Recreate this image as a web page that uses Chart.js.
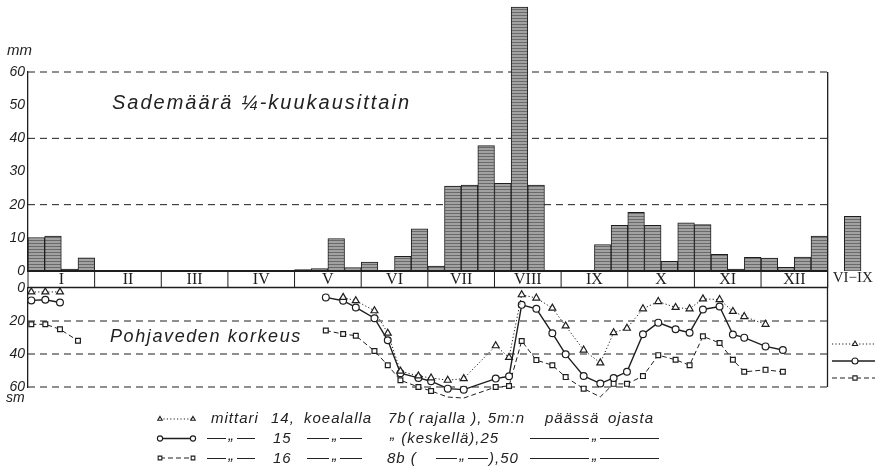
<!DOCTYPE html>
<html>
<head>
<meta charset="utf-8">
<script src="https://cdn.jsdelivr.net/npm/chart.js@4/dist/chart.umd.min.js"></script>
<style>
html,body{margin:0;padding:0;background:#fff;}
#wrap{position:relative;width:875px;height:466px;overflow:hidden;background:#fff;}
canvas{position:absolute;left:0;top:0;}
.t{position:absolute;white-space:pre;font-family:"Liberation Sans",Arial,sans-serif;font-style:italic;color:#222;line-height:1;}
.lg{font-size:15px;letter-spacing:1px;}
.rule{position:absolute;display:flex;align-items:center;height:16px;font-family:"Liberation Sans",Arial,sans-serif;font-style:italic;color:#222;font-size:15px;}
.rule i{flex:1;border-top:1px solid #222;height:0;}
.rule b{font-weight:normal;padding:0 3px;position:relative;top:-4px;}
</style>
</head>
<body>
<div id="wrap">
  <canvas id="rain" width="875" height="466"></canvas>
  <canvas id="water" width="875" height="466"></canvas>

  <div class="t" style="left:7px;top:42px;font-size:15px;">mm</div>
  <div class="t" style="left:112px;top:92px;font-size:20px;letter-spacing:2px;">Sademäärä ¼-kuukausittain</div>
  <div class="t" style="left:110px;top:327px;font-size:18px;letter-spacing:1.6px;">Pohjaveden korkeus</div>
  <div class="t" style="left:6px;top:390px;font-size:14px;">sm</div>

  <!-- gauge legend, row 1 -->
  <div class="t lg" style="left:211px;top:410px;">mittari</div>
  <div class="t lg" style="left:271px;top:410px;">14,</div>
  <div class="t lg" style="left:304px;top:410px;">koealalla</div>
  <div class="t lg" style="left:388px;top:410px;">7b</div>
  <div class="t lg" style="left:408px;top:410px;">( rajalla ), 5m:n</div>
  <div class="t lg" style="left:545px;top:410px;">päässä</div>
  <div class="t lg" style="left:608px;top:410px;">ojasta</div>

  <!-- row 2 -->
  <div class="rule" style="left:207px;top:430px;width:48px;"><i></i><b>„</b><i></i></div>
  <div class="t lg" style="left:273px;top:430px;">15</div>
  <div class="rule" style="left:307px;top:430px;width:55px;"><i></i><b>„</b><i></i></div>
  <div class="t lg" style="left:390px;top:430px;"><span style="position:relative;top:-4px;">„</span> (keskellä),25</div>
  <div class="rule" style="left:530px;top:430px;width:129px;"><i></i><b>„</b><i></i></div>

  <!-- row 3 -->
  <div class="rule" style="left:207px;top:450px;width:48px;"><i></i><b>„</b><i></i></div>
  <div class="t lg" style="left:273px;top:450px;">16</div>
  <div class="rule" style="left:307px;top:450px;width:55px;"><i></i><b>„</b><i></i></div>
  <div class="t lg" style="left:387px;top:450px;">8b (</div>
  <div class="rule" style="left:436px;top:450px;width:52px;"><i></i><b>„</b><i></i></div>
  <div class="t lg" style="left:489px;top:450px;">),50</div>
  <div class="rule" style="left:530px;top:450px;width:129px;"><i></i><b>„</b><i></i></div>
</div>

<script>
// ---- Precipitation, mm per quarter of a month ----
const months = ['I','II','III','IV','V','VI','VII','VIII','IX','X','XI','XII'];
const rainQuarter = [
  10.1, 10.5, 0.6, 4.0,    // I
  0, 0, 0, 0,              // II
  0, 0, 0, 0,              // III
  0, 0, 0, 0,              // IV
  0.4, 0.7, 9.8, 1.0,      // V
  2.7, 0, 4.4, 12.7,       // VI
  1.5, 25.6, 25.9, 37.8,   // VII
  26.4, 79.6, 25.9, 0,     // VIII
  0, 0, 8.0, 13.8,         // IX
  17.7, 13.8, 2.9, 14.5,   // X
  14.0, 5.0, 0.6, 4.1,     // XI
  3.9, 1.1, 4.2, 10.5      // XII
];
const summerLabel = 'VI−IX';
const summerRain = 16.5;
const rainTicks = [0, 10, 20, 30, 40, 50, 60];
const rainGrid = [20, 40, 60];

// ---- Groundwater depth (cm below surface) ----
// reading times as month positions (0 = start of January, 12 = end of December)
const tJan = [0.05, 0.26, 0.48, 0.75];
const tSummer = [4.47, 4.73, 4.92, 5.20, 5.40, 5.59, 5.86, 6.05, 6.30, 6.54,
                 7.02, 7.22, 7.41, 7.63, 7.87, 8.07, 8.34, 8.59, 8.79, 8.99,
                 9.23, 9.46, 9.72, 9.93, 10.13, 10.38, 10.58, 10.75, 11.07, 11.33];
const gauge14Jan = [2.4, 2.4, 2.4, null];
const gauge14 = [null, 5.7, 7.7, 13.8, 27.4, 50.4, 53.3, 54.5, 55.9, 54.9,
                 35.0, 42.1, 4.1, 6.1, 12.2, 23.0, 37.6, 45.4, 27.1, 24.4,
                 12.6, 8.2, 11.8, 12.6, 6.6, 7.0, 14.2, 17.3, 22.0, null];
const gauge15Jan = [7.5, 7.1, 8.8, null];
const gauge15 = [5.7, 7.7, 11.8, 18.3, 31.7, 51.6, 54.5, 56.5, 61.0, 61.6,
                 54.9, 53.5, 10.2, 12.6, 27.4, 40.2, 53.3, 57.9, 54.5, 50.8,
                 28.0, 21.0, 25.0, 27.1, 13.0, 11.2, 28.2, 30.1, 35.4, 37.6];
const gauge16Jan = [22.0, 22.0, 25.0, 32.0];
const gauge16 = [25.8, 27.9, 28.9, 38.2, 46.8, 55.9, 60.0, 62.4, 66.1, 66.7,
                 60.0, 59.4, 32.1, 43.7, 46.8, 54.0, 61.0, 66.0, 58.1, 58.1,
                 53.4, 40.7, 43.5, 46.8, 29.3, 33.3, 43.5, 50.8, 49.6, 50.8];
const depthTicks = [0, 20, 40, 60];
const depthGrid = [20, 40, 60];

const INK = '#1e1e1e';
const tickFont = {family: '"Liberation Sans", Arial, sans-serif', style: 'italic', size: 14};

// hatched grey fill for the bars
function hatch() {
  const c = document.createElement('canvas');
  c.width = 4; c.height = 3;
  const g = c.getContext('2d');
  g.fillStyle = '#a2a2a2'; g.fillRect(0, 0, 4, 3);
  g.fillStyle = '#6a6a6a'; g.fillRect(0, 0, 4, 1);
  return g.createPattern(c, 'repeat');
}

function dashedLine(ctx, x1, x2, y, dash, w) {
  ctx.save();
  ctx.strokeStyle = INK; ctx.lineWidth = w || 1; ctx.setLineDash(dash);
  ctx.beginPath(); ctx.moveTo(x1, y); ctx.lineTo(x2, y); ctx.stroke();
  ctx.restore();
}

// ---- top panel: precipitation bars ----
const quarterLabels = months.flatMap(m => [m + ' 1', m + ' 2', m + ' 3', m + ' 4']);
const barLabels = [...quarterLabels, '', summerLabel];
const barValues = [...rainQuarter, null, summerRain];

const rainFrame = {
  id: 'rainFrame',
  beforeDatasetsDraw(chart) {
    const {ctx} = chart, x = chart.scales.x, y = chart.scales.y;
    const step = x.getPixelForValue(1) - x.getPixelForValue(0);
    const left = chart.chartArea.left;
    const right = x.getPixelForValue(47) + step / 2;
    rainGrid.forEach(v => dashedLine(ctx, left, right, y.getPixelForValue(v), [7, 5], 1));
  },
  afterDatasetsDraw(chart) {
    const {ctx} = chart, x = chart.scales.x, y = chart.scales.y;
    const step = x.getPixelForValue(1) - x.getPixelForValue(0);
    const left = chart.chartArea.left;
    const right = x.getPixelForValue(47) + step / 2;
    const y0 = y.getPixelForValue(0);
    const yb = y0 + 16.5;
    ctx.save();
    ctx.strokeStyle = INK;
    // zero line and month strip
    ctx.lineWidth = 2;
    ctx.beginPath(); ctx.moveTo(left, y0); ctx.lineTo(right, y0); ctx.stroke();
    ctx.lineWidth = 1.4;
    ctx.beginPath(); ctx.moveTo(left, yb); ctx.lineTo(right, yb); ctx.stroke();
    ctx.lineWidth = 1;
    ctx.font = '16px "Liberation Serif", "Times New Roman", serif';
    ctx.fillStyle = INK; ctx.textAlign = 'center'; ctx.textBaseline = 'middle';
    months.forEach((m, i) => {
      const a = x.getPixelForValue(i * 4) - step / 2;
      const b = a + step * 4;
      ctx.beginPath(); ctx.moveTo(a, y0); ctx.lineTo(a, yb); ctx.stroke();
      ctx.fillText(m, (a + b) / 2, (y0 + yb) / 2 + 1);
    });
    // right frame line down to the groundwater panel
    ctx.lineWidth = 1.3;
    ctx.beginPath(); ctx.moveTo(right, y.getPixelForValue(60)); ctx.lineTo(right, yb); ctx.stroke();
    // label of the summer total bar
    ctx.font = '15px "Liberation Serif", "Times New Roman", serif';
    ctx.textAlign = 'left';
    ctx.fillText(summerLabel, right + 5, y0 + 7);
    ctx.restore();
  }
};

new Chart(document.getElementById('rain'), {
  type: 'bar',
  data: {
    labels: barLabels,
    datasets: [{
      data: barValues,
      backgroundColor: hatch(),
      borderColor: INK,
      borderWidth: 1,
      borderSkipped: 'start',
      barPercentage: 1,
      categoryPercentage: 1,
      clip: false
    }]
  },
  options: {
    responsive: false,
    animation: false,
    events: [],
    layout: {padding: {top: 72, bottom: 195, left: 0, right: 14}},
    plugins: {legend: {display: false}, tooltip: {enabled: false}},
    scales: {
      x: {display: false},
      y: {
        min: 0, max: 60,
        afterFit(s) { s.width = 28; },
        afterBuildTicks(s) { s.ticks = rainTicks.map(v => ({value: v})); },
        grid: {display: false, drawTicks: false},
        border: {display: true, color: INK, width: 1.3},
        ticks: {color: INK, font: tickFont, padding: 3}
      }
    }
  },
  plugins: [rainFrame]
});

// ---- bottom panel: groundwater depth lines ----
function series(jan, summer) {
  const pts = tJan.map((t, i) => ({x: t, y: jan[i]}));
  pts.push({x: 2.5, y: null});
  tSummer.forEach((t, i) => pts.push({x: t, y: summer[i]}));
  return pts;
}

const styles = [
  {label: 'mittari 14', data: series(gauge14Jan, gauge14), pointStyle: 'triangle', borderDash: [1.2, 2.2], borderWidth: 1, pointRadius: 4},
  {label: 'mittari 15', data: series(gauge15Jan, gauge15), pointStyle: 'circle', borderDash: [], borderWidth: 1.4, pointRadius: 3.4},
  {label: 'mittari 16', data: series(gauge16Jan, gauge16), pointStyle: 'rect', borderDash: [5, 3], borderWidth: 1, pointRadius: 3.4}
];

const waterFrame = {
  id: 'waterFrame',
  beforeDatasetsDraw(chart) {
    const {ctx, chartArea} = chart, y = chart.scales.y;
    depthGrid.forEach(v => dashedLine(ctx, chartArea.left, chartArea.right, y.getPixelForValue(v), [7, 5], 1));
    ctx.save();
    ctx.strokeStyle = INK; ctx.lineWidth = 1.3;
    ctx.beginPath(); ctx.moveTo(chartArea.right, chartArea.top - 1); ctx.lineTo(chartArea.right, chartArea.bottom); ctx.stroke();
    ctx.restore();
  },
  afterDatasetsDraw(chart) {
    const {ctx} = chart;
    const sample = (ds, x1, x2, yy, r, marks) => {
      ctx.save();
      ctx.strokeStyle = INK; ctx.lineWidth = ds.borderWidth; ctx.setLineDash(ds.borderDash);
      ctx.beginPath(); ctx.moveTo(x1, yy); ctx.lineTo(x2, yy); ctx.stroke();
      ctx.setLineDash([]);
      ctx.fillStyle = '#fff'; ctx.lineWidth = 1.1;
      marks.forEach(mx => Chart.helpers.drawPoint(ctx, {pointStyle: ds.pointStyle, radius: r, borderWidth: 1.1, rotation: 0}, mx, yy));
      ctx.restore();
    };
    // key at the right edge
    [344, 361, 378].forEach((yy, i) => sample(styles[i], 832, 875, yy, 3, [855]));
    // key under the chart
    [419, 438.5, 458].forEach((yy, i) => sample(styles[i], 160, 193, yy, 2.6, [160, 193]));
  }
};

new Chart(document.getElementById('water'), {
  type: 'line',
  data: {
    datasets: styles.map(s => ({
      label: s.label,
      data: s.data,
      borderColor: INK,
      borderWidth: s.borderWidth,
      borderDash: s.borderDash,
      pointStyle: s.pointStyle,
      pointRadius: s.pointRadius,
      pointBorderWidth: 1.2,
      pointBorderColor: INK,
      pointBackgroundColor: '#fff',
      tension: 0,
      spanGaps: false,
      clip: false
    }))
  },
  options: {
    responsive: false,
    animation: false,
    events: [],
    layout: {padding: {top: 288, bottom: 79, left: 0, right: 47.5}},
    plugins: {legend: {display: false}, tooltip: {enabled: false}},
    scales: {
      x: {type: 'linear', min: 0, max: 12, display: false},
      y: {
        min: 0, max: 60, reverse: true,
        afterFit(s) { s.width = 28; },
        afterBuildTicks(s) { s.ticks = depthTicks.map(v => ({value: v})); },
        grid: {display: false, drawTicks: false},
        border: {display: true, color: INK, width: 1.3},
        ticks: {color: INK, font: tickFont, padding: 3}
      }
    }
  },
  plugins: [waterFrame]
});
</script>
</body>
</html>
